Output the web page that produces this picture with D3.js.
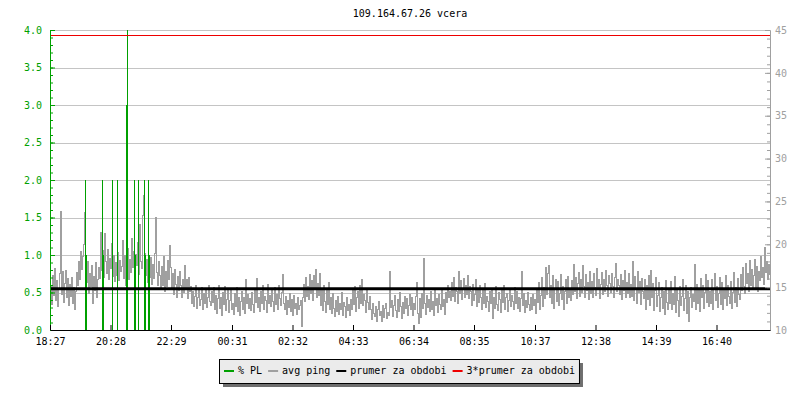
<!DOCTYPE html>
<html>
<head>
<meta charset="utf-8">
<script src="https://cdn.jsdelivr.net/npm/d3@7"></script>
<style>
body { margin: 0; background: #fff; }
text { font-family: "DejaVu Sans Mono", monospace; font-size: 10px; }
</style>
</head>
<body>
<div id="chart"></div>
<script>
var title = "109.164.67.26 vcera";
var startTime = "18:27";
var spanMinutes = 1440;
var sampleMinutes = 2;
var tickLabels = ["18:27", "20:28", "22:29", "00:31", "02:32", "04:33", "06:34", "08:35", "10:37", "12:38", "14:39", "16:40"];

// avg ping [ms], one value every 2 minutes
var ping = [
    15.2, 13.0, 16.4, 14.1, 17.2, 13.5, 15.8, 12.8, 14.9, 16.6, 23.9, 14.2, 16.9, 13.3, 15.5, 17.0, 13.9, 16.1, 12.9, 15.4,
    14.0, 16.2, 13.1, 15.0, 12.5, 14.6, 16.8, 15.3, 18.1, 16.0, 19.2, 17.1, 18.6, 20.0, 23.8, 17.4, 15.6, 18.0, 14.3, 16.7,
    15.1, 17.6, 13.2, 16.3, 14.7, 17.9, 13.8, 15.9, 17.3, 16.1, 21.4, 17.0, 19.3, 16.2, 21.3, 18.1, 16.6, 19.5, 15.9, 18.4,
    17.2, 20.1, 16.3, 18.8, 15.7, 17.9, 16.4, 19.1, 15.8, 18.2, 16.9, 17.5, 20.5, 16.1, 18.7, 15.2, 17.8, 19.6, 15.9, 18.3,
    16.8, 20.7, 17.3, 19.2, 16.0, 18.9, 17.6, 20.3, 16.5, 22.4, 18.1, 17.2, 23.4, 25.8, 19.0, 16.4, 18.3, 15.6, 17.9, 16.2,
    18.5, 15.4, 17.7, 16.1, 19.0, 23.2, 16.8, 15.2, 18.1, 16.4, 14.8, 17.5, 15.3, 18.6, 14.6, 16.9, 15.1, 18.2, 16.0, 19.9,
    17.3, 15.0, 16.6, 14.2, 17.1, 15.4, 13.8, 16.3, 14.7, 16.9, 15.2, 13.9, 16.0, 14.4, 17.6, 14.8, 15.9, 13.7, 16.2, 14.5,
    15.1, 13.2, 14.6, 12.8, 14.0, 15.3, 12.6, 13.9, 14.8, 12.9, 13.6, 15.0, 12.4, 14.3, 13.1, 14.9, 12.7, 13.8, 15.2, 13.4,
    12.9, 14.5, 13.3, 15.0, 12.5, 14.1, 12.0, 13.7, 15.2, 12.6, 13.9, 11.8, 14.4, 13.0, 15.1, 12.3, 13.6, 14.7, 12.1, 13.5,
    14.8, 12.4, 13.2, 11.9, 14.3, 12.8, 15.0, 12.2, 13.8, 11.8, 13.4, 14.6, 12.5, 13.9, 12.0, 16.0, 13.1, 14.2, 12.6, 13.7,
    12.3, 14.4, 13.0, 12.1, 14.9, 13.3, 16.1, 12.7, 13.8, 12.2, 14.5, 13.1, 15.2, 12.4, 14.0, 13.5, 12.1, 15.4, 13.2, 14.1,
    12.8, 14.7, 13.4, 12.2, 15.0, 13.0, 14.2, 12.5, 15.3, 13.7, 12.9, 14.4, 16.5, 13.1, 12.4, 14.0, 11.9, 13.5, 12.7, 14.3,
    12.2, 13.6, 11.8, 14.1, 12.6, 13.2, 11.9, 13.9, 12.4, 12.9, 13.5, 10.5, 13.8, 15.4, 13.4, 16.2, 14.0, 15.1, 13.6, 16.5,
    14.3, 15.8, 13.5, 16.4, 14.8, 17.1, 13.9, 15.5, 14.1, 16.6, 12.9, 14.7, 12.3, 15.2, 13.4, 12.1, 14.8, 13.0, 15.6, 12.5,
    13.8, 12.0, 14.3, 12.6, 11.6, 13.5, 12.2, 14.0, 11.9, 13.1, 12.5, 14.4, 11.7, 13.3, 12.8, 11.5, 13.9, 12.3, 13.0, 11.8,
    13.6, 12.4, 14.7, 13.0, 15.1, 12.2, 13.8, 14.5, 12.6, 15.3, 13.2, 16.0, 12.9, 14.2, 13.5, 12.1, 14.8, 13.3, 12.5, 14.0,
    12.4, 11.3, 13.1, 12.0, 11.6, 12.8, 11.1, 12.5, 13.4, 11.7, 12.2, 11.0, 12.9, 11.5, 12.6, 13.2, 11.4, 12.1, 11.8, 16.9,
    12.7, 13.5, 11.6, 12.9, 14.1, 12.3, 11.5, 13.6, 12.2, 14.4, 12.8, 11.4, 13.3, 12.0, 14.0, 12.6, 13.7, 11.7, 12.9, 14.2,
    12.4, 13.9, 11.8, 13.1, 12.5, 14.0, 15.6, 12.0, 10.8, 13.7, 11.5, 14.3, 12.6, 18.4, 13.2, 11.9, 14.1, 12.7, 13.6, 12.2,
    14.5, 12.4, 13.4, 11.8, 14.8, 12.9, 13.7, 12.1, 14.2, 13.0, 12.5, 14.9, 12.8, 13.6, 11.9, 14.4, 13.3, 15.2, 13.8, 14.6,
    13.5, 15.6, 14.0, 16.2, 13.4, 15.0, 14.5, 13.2, 16.9, 14.3, 15.8, 13.6, 14.9, 16.1, 13.8, 15.3, 14.2, 16.4, 13.7, 15.1,
    14.6, 12.9, 15.4, 13.5, 14.2, 16.0, 12.8, 14.7, 13.3, 15.2, 13.8, 12.4, 14.9, 13.1, 15.5, 12.7, 14.0, 13.4, 12.2, 14.6,
    13.2, 14.8, 11.4, 13.9, 12.6, 15.1, 13.0, 12.3, 14.4, 13.6, 12.1, 14.7, 13.3, 15.2, 12.5, 13.8, 14.3, 12.2, 13.5, 14.9,
    12.8, 14.1, 13.4, 12.4, 15.0, 13.1, 14.5, 12.6, 13.9, 12.2, 13.7, 16.9, 12.9, 14.3, 12.1, 13.5, 12.7, 14.4, 13.0, 12.3,
    13.8, 12.5, 14.2, 12.9, 13.6, 12.0, 14.9, 13.3, 15.6, 12.4, 14.1, 16.2, 12.8, 15.0, 13.7, 17.4, 14.2, 16.6, 17.6, 13.9,
    15.3, 13.1, 16.4, 12.6, 14.8, 16.0, 13.4, 15.7, 12.9, 14.3, 16.5, 13.6, 15.1, 12.5, 14.6, 15.9, 13.2, 16.3, 13.8, 14.9,
    13.5, 15.8, 14.2, 17.7, 14.6, 16.2, 13.7, 15.5, 16.8, 14.0, 15.9, 14.4, 17.6, 15.1, 13.8, 16.5, 14.7, 15.6, 13.6, 16.9,
    14.3, 15.7, 13.9, 16.6, 15.0, 14.1, 17.2, 14.8, 16.0, 13.7, 15.4, 16.8, 14.2, 15.9, 14.6, 17.0, 15.2, 14.0, 16.4, 15.5,
    14.4, 16.7, 15.1, 13.9, 16.2, 17.8, 14.5, 16.0, 15.3, 14.2, 16.5, 13.6, 15.8, 14.7, 17.0, 13.8, 15.6, 14.3, 16.6, 13.9,
    15.4, 14.0, 18.1, 13.5, 16.3, 14.8, 13.2, 16.9, 14.4, 15.7, 13.0, 16.1, 14.6, 13.7, 15.9, 12.4, 15.2, 13.6, 16.4, 12.9,
    17.0, 13.8, 15.5, 12.3, 14.7, 16.2, 12.8, 14.1, 15.6, 12.2, 13.9, 15.0, 12.6, 14.6, 11.9, 15.8, 13.3, 12.5, 14.9, 13.1,
    15.7, 12.4, 14.3, 13.0, 16.3, 12.1, 14.8, 13.5, 11.6, 15.1, 12.9, 14.0, 16.0, 12.3, 13.7, 15.3, 12.0, 14.5, 11.1, 13.8,
    15.0, 12.7, 14.2, 13.4, 17.7, 12.5, 15.4, 13.1, 14.7, 12.2, 16.1, 13.9, 15.2, 12.6, 14.4, 16.5, 13.3, 15.8, 12.8, 14.6,
    13.2, 15.9, 12.4, 14.8, 16.6, 13.5, 15.1, 12.7, 14.3, 16.2, 13.0, 15.6, 12.5, 14.9, 13.7, 16.4, 12.9, 15.3, 14.0, 13.1,
    15.7, 12.6, 14.4, 16.8, 13.3, 15.0, 12.8, 16.1, 14.2, 13.6, 16.5, 14.7, 17.3, 15.1, 14.3, 17.8, 15.5, 16.6, 14.6, 18.2,
    15.3, 17.1, 14.8, 16.4, 18.3, 15.0, 17.5, 14.5, 16.9, 15.8, 18.6, 16.2, 17.4, 15.4, 19.7, 16.8, 18.1, 15.9, 17.7, 16.5
];

// packet loss [%]: minutes after start and value
var plMinutes = [71, 73, 105, 107, 124, 135, 152, 154, 168, 170, 177, 189, 191, 197, 199];
var plValues  = [2.0, 1.0, 2.0, 1.0, 2.0, 2.0, 3.0, 4.0, 2.0, 1.0, 2.0, 2.0, 1.0, 2.0, 1.0];

var pingMean = 14.8;   // prumer za obdobi [ms]

var legendNames = ["% PL", "avg ping", "prumer za obdobi", "3*prumer za obdobi"];
var legendColours = ["#00a000", "#a0a0a0", "#000000", "#ee0000"];

var margin = { top: 30, right: 30, bottom: 70, left: 50 };
var width = 800;
var height = 400;

var svg = d3.select("#chart")
    .append("svg")
    .attr("width", width)
    .attr("height", height);

var x = d3.scaleLinear()
    .domain([0, spanMinutes])
    .range([margin.left, width - margin.right]);
var yPL = d3.scaleLinear()
    .domain([0, 4])
    .range([height - margin.bottom, margin.top]);
var yPing = d3.scaleLinear()
    .domain([10, 45])
    .range([height - margin.bottom, margin.top]);

function toMinutes(s){
    var p = s.split(":");
    return +p[0] * 60 + +p[1];
}
var tickMinutes = tickLabels.map(function(l){
    return (toMinutes(l) - toMinutes(startTime) + 1440) % 1440;
});

// horizontal grid
svg.append("g").selectAll("line")
    .data(d3.range(0.5, 4.01, 0.5))
    .enter().append("line")
    .attr("x1", margin.left + 1)
    .attr("x2", width - margin.right)
    .attr("y1", function(d){ return Math.round(yPL(d)) + 0.5; })
    .attr("y2", function(d){ return Math.round(yPL(d)) + 0.5; })
    .style("stroke", "#c4c4c4");

// avg ping
var pingLine = d3.line()
    .x(function(d){ return x(d[0]); })
    .y(function(d){ return Math.round(yPing(d[1])) + 0.5; })
    .curve(d3.curveStepAfter);
var pts = ping.map(function(v, i){ return [i * sampleMinutes, v]; });
pts.push([ping.length * sampleMinutes, ping[ping.length - 1]]);
svg.append("path")
    .attr("d", pingLine(pts))
    .style("fill", "none")
    .style("stroke", legendColours[1])
    .style("stroke-width", 1)
    .style("shape-rendering", "crispEdges");

// packet loss
svg.append("g").selectAll("rect")
    .data(plMinutes)
    .enter().append("rect")
    .attr("x", function(d){ return Math.floor(x(d)); })
    .attr("y", function(d, i){ return Math.round(yPL(plValues[i])); })
    .attr("width", 1)
    .attr("height", function(d, i){ return yPL(0) - Math.round(yPL(plValues[i])); })
    .style("fill", legendColours[0]);

// mean and 3*mean
svg.append("line")
    .attr("x1", margin.left + 1).attr("x2", width - margin.right)
    .attr("y1", yPing(pingMean)).attr("y2", yPing(pingMean))
    .style("stroke", legendColours[2])
    .style("stroke-width", 3);
svg.append("line")
    .attr("x1", margin.left + 1).attr("x2", width - margin.right)
    .attr("y1", Math.round(yPing(3 * pingMean)) + 0.5).attr("y2", Math.round(yPing(3 * pingMean)) + 0.5)
    .style("stroke", legendColours[3])
    .style("stroke-width", 1);

function styleAxis(g, colour){
    g.attr("font-family", "DejaVu Sans Mono, monospace").attr("font-size", 10);
    g.selectAll("path, line").attr("stroke", colour);
    g.selectAll("text").attr("fill", colour);
}

// left axis (% PL)
svg.append("g")
    .attr("transform", "translate(" + margin.left + ",0)")
    .call(d3.axisLeft(yPL).tickValues(d3.range(0, 4.01, 0.1)).tickFormat("").tickSizeInner(-3).tickSizeOuter(0))
    .call(styleAxis, legendColours[0]);
svg.append("g")
    .attr("transform", "translate(" + margin.left + ",0)")
    .call(d3.axisLeft(yPL).tickValues(d3.range(0, 4.01, 0.5)).tickFormat(d3.format(".1f")).tickSizeInner(-5).tickSizeOuter(0).tickPadding(8))
    .call(styleAxis, legendColours[0]);

// right axis (ping)
svg.append("g")
    .attr("transform", "translate(" + (width - margin.right) + ",0)")
    .call(d3.axisRight(yPing).tickValues(d3.range(10, 45.1, 1)).tickFormat("").tickSizeInner(-3).tickSizeOuter(0))
    .call(styleAxis, legendColours[1]);
svg.append("g")
    .attr("transform", "translate(" + (width - margin.right) + ",0)")
    .call(d3.axisRight(yPing).tickValues(d3.range(10, 45.1, 5)).tickSizeInner(-5).tickSizeOuter(0).tickPadding(5))
    .call(styleAxis, legendColours[1]);

// time axis
svg.append("g")
    .attr("transform", "translate(0," + (height - margin.bottom) + ")")
    .call(d3.axisBottom(x).tickValues(tickMinutes).tickFormat(function(d, i){ return tickLabels[i]; })
        .tickSizeInner(-5).tickSizeOuter(0).tickPadding(8))
    .call(styleAxis, "#000");

// title
svg.append("text")
    .attr("x", (margin.left + width - margin.right) / 2)
    .attr("y", 17)
    .attr("text-anchor", "middle")
    .text(title);

// legend
var lg = svg.append("g");
var shadow = lg.append("rect").style("fill", "#6e6e6e");
var box = lg.append("rect").style("fill", "#ebebeb").style("stroke", "#000");
var cx = 0;
legendNames.forEach(function(name, i){
    lg.append("rect")
        .attr("x", cx).attr("y", 370)
        .attr("width", 10).attr("height", 2)
        .style("fill", legendColours[i]);
    var t = lg.append("text")
        .attr("x", cx + 14).attr("y", 374)
        .text(name);
    cx += 14 + t.node().getComputedTextLength() + 6;
});
var lgWidth = cx - 6;
var lgLeft = Math.round(399 - lgWidth / 2);
lg.attr("transform", "translate(" + lgLeft + ",0)");
box.attr("x", -4.5).attr("y", 359.5).attr("width", lgWidth + 9).attr("height", 24);
shadow.attr("x", -1).attr("y", 363).attr("width", lgWidth + 9).attr("height", 24);
</script>
</body>
</html>
